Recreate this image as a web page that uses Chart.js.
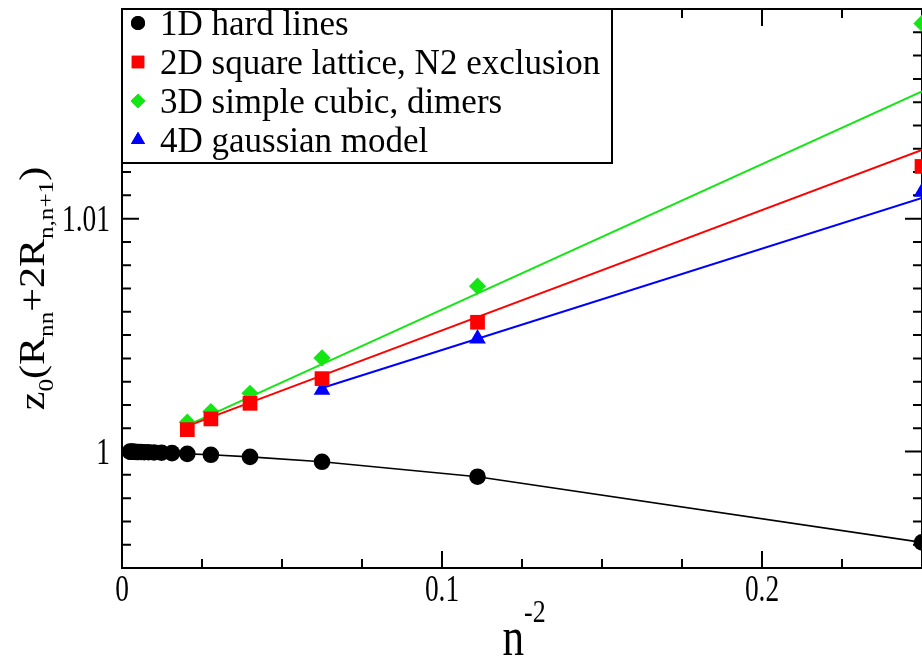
<!DOCTYPE html>
<html>
<head>
<meta charset="utf-8">
<script src="https://cdn.jsdelivr.net/npm/chart.js@4.4.0/dist/chart.umd.min.js"></script>
<style>
html,body{margin:0;padding:0;background:#ffffff;}
#wrap{width:922px;height:665px;position:relative;overflow:hidden;}
canvas{display:block;}
</style>
</head>
<body>
<div id="wrap"><canvas id="c" width="922" height="665"></canvas></div>
<script>
// ---------------- data ----------------
const seriesLabels = ['1D hard lines', '2D square lattice, N2 exclusion', '3D simple cubic, dimers', '4D gaussian model'];

// x = n^-2
const x1D = [0.25, 0.1111, 0.0625, 0.04, 0.02778, 0.02041, 0.01563, 0.01235, 0.01, 0.00826, 0.00694, 0.00592, 0.0051, 0.00444, 0.00391, 0.00346, 0.00309, 0.00277, 0.0025];
const y1D = [0.99610, 0.99892, 0.99956, 0.99977, 0.99986, 0.99990, 0.99993, 0.99995, 0.99996, 0.99997, 0.99997, 0.99998, 0.99998, 0.99998, 0.99999, 0.99999, 0.99999, 0.99999, 1.00000];

const x2D = [0.02041, 0.02778, 0.04, 0.0625, 0.1111, 0.25];
const y2D = [1.00094, 1.00140, 1.00207, 1.00313, 1.00555, 1.01224];

const x3D = [0.02041, 0.02778, 0.04, 0.0625, 0.1111, 0.25];
const y3D = [1.00126, 1.00172, 1.00250, 1.00402, 1.00710, 1.01838];

const x4D = [0.0625, 0.1111, 0.25];
const y4D = [1.00264, 1.00485, 1.01115];

// straight fit lines
const fitX2D = [0.02041, 0.25];
const fitY2D = [1.00109, 1.01295];
const fitX3D = [0.02041, 0.25];
const fitY3D = [1.00112, 1.01546];
const fitX4D = [0.0625, 0.25];
const fitY4D = [1.00273, 1.01089];

// axes
const xTicks = [0, 0.1, 0.2];
const xTickLabels = ['0', '0.1', '0.2'];
const xMinorTicks = [0.025, 0.05, 0.075, 0.125, 0.15, 0.175, 0.225];
const yTicks = [1.0, 1.01];
const yTickLabels = ['1', '1.01'];
const yMinorTicks = [0.996, 0.997, 0.998, 0.999, 1.001, 1.002, 1.003, 1.004, 1.005, 1.006, 1.007, 1.008, 1.009, 1.011, 1.012, 1.013, 1.014, 1.015, 1.016, 1.017, 1.018];
const xRange = [0, 0.25];
const yRange = [0.995, 1.019];

// ---------------- helpers ----------------
const pts = (xs, ys) => xs.map((x, i) => ({x: x, y: ys[i]}));
const SERIF = "'Liberation Serif', 'DejaVu Serif', serif";
const COL = {black: '#000000', red: '#ff0000', green: '#14e614', blue: '#0000ff'};
const styles = [
  {color: COL.black, pointStyle: 'circle', radius: 8.3},
  {color: COL.red, pointStyle: 'rect', radius: 10.4},
  {color: COL.green, pointStyle: 'rectRot', radius: 8.6},
  {color: COL.blue, pointStyle: 'triangle', radius: 9.6}
];

function markerSet(idx, data) {
  const s = styles[idx];
  return {
    label: seriesLabels[idx], data: data, showLine: false,
    pointStyle: s.pointStyle, pointRadius: s.radius, pointHoverRadius: s.radius,
    pointBackgroundColor: s.color, pointBorderColor: s.color, pointBorderWidth: 0,
    backgroundColor: s.color, borderColor: s.color, order: 1
  };
}
function lineSet(idx, data, width) {
  const s = styles[idx];
  return {
    label: seriesLabels[idx] + ' line', data: data, showLine: true, pointRadius: 0, pointHoverRadius: 0,
    borderColor: s.color, borderWidth: width, backgroundColor: s.color, tension: 0, fill: false, order: 2
  };
}

// text geometry
const TICK_FONT = 37, TICK_K = 0.74;
const LEGEND_FONT = 35;
const YT_FONT = 42, YT_K = 0.85;
const XT_FONT = 54, XT_K = 0.8;

function fillScaled(ctx, text, x, y, k, align) {
  ctx.save();
  ctx.translate(x, y);
  ctx.scale(k, 1);
  const w = ctx.measureText(text).width;
  let dx = 0;
  if (align === 'center') dx = -w / 2;
  else if (align === 'right') dx = -w;
  ctx.fillText(text, dx, 0);
  ctx.restore();
}

// frame + inward ticks + tick labels
const framePlugin = {
  id: 'frame',
  beforeDatasetsDraw(chart) {
    const ctx = chart.ctx, a = chart.chartArea, xs = chart.scales.x, ys = chart.scales.y;
    ctx.save();
    ctx.strokeStyle = '#000';
    ctx.lineWidth = 2;
    ctx.strokeRect(a.left, a.top, a.right - a.left, a.bottom - a.top);
    const major = 17, minor = 9;
    ctx.beginPath();
    const vt = (v, len) => {
      const p = xs.getPixelForValue(v);
      ctx.moveTo(p, a.bottom); ctx.lineTo(p, a.bottom - len);
      ctx.moveTo(p, a.top); ctx.lineTo(p, a.top + len);
    };
    const ht = (v, len) => {
      const p = ys.getPixelForValue(v);
      ctx.moveTo(a.left, p); ctx.lineTo(a.left + len, p);
      ctx.moveTo(a.right, p); ctx.lineTo(a.right - len, p);
    };
    xTicks.forEach(v => vt(v, major));
    xMinorTicks.forEach(v => vt(v, minor));
    yTicks.forEach(v => ht(v, major));
    yMinorTicks.forEach(v => ht(v, minor));
    ctx.stroke();

    // tick labels
    ctx.fillStyle = '#000';
    ctx.font = TICK_FONT + 'px ' + SERIF;
    ctx.textBaseline = 'alphabetic';
    ctx.textAlign = 'left';
    const digitH = TICK_FONT * 0.66;
    xTicks.forEach((v, i) => {
      fillScaled(ctx, xTickLabels[i], xs.getPixelForValue(v), a.bottom + 9 + digitH, TICK_K, 'center');
    });
    yTicks.forEach((v, i) => {
      fillScaled(ctx, yTickLabels[i], a.left - 12, ys.getPixelForValue(v) + digitH / 2, TICK_K, 'right');
    });
    ctx.restore();
  }
};

// rich-text helper (supports sub/superscripts)
function drawRich(ctx, parts, size, startX, baseY) {
  let x = startX;
  parts.forEach(p => {
    const fs = p.s ? size * 0.6 : size;
    ctx.font = fs + 'px ' + SERIF;
    const dy = p.s === 'sub' ? size * 0.25 : (p.s === 'sup' ? -size * 0.61 : 0);
    ctx.fillText(p.t, x, baseY + dy);
    x += ctx.measureText(p.t).width;
  });
}
function richWidth(ctx, parts, size) {
  let w = 0;
  parts.forEach(p => {
    ctx.font = (p.s ? size * 0.6 : size) + 'px ' + SERIF;
    w += ctx.measureText(p.t).width;
  });
  return w;
}

const yTitleParts = [
  {t: 'z'}, {t: '0', s: 'sub'}, {t: '(R'}, {t: 'nn', s: 'sub'}, {t: '+2R'}, {t: 'n,n+1', s: 'sub'}, {t: ')'}
];
const xTitleParts = [{t: 'n'}, {t: '-2', s: 'sup'}];

const titlePlugin = {
  id: 'titles',
  afterDraw(chart) {
    const ctx = chart.ctx, a = chart.chartArea;
    ctx.save();
    ctx.fillStyle = '#000';
    ctx.textBaseline = 'alphabetic';
    ctx.textAlign = 'left';
    // x title (horizontally condensed)
    const wx = richWidth(ctx, xTitleParts, XT_FONT);
    ctx.save();
    ctx.translate((a.left + a.right) / 2 + 2, 655);
    ctx.scale(XT_K, 1);
    drawRich(ctx, xTitleParts, XT_FONT, -wx / 2, 0);
    ctx.restore();
    // y title (rotated, glyphs condensed horizontally on screen)
    const wy = richWidth(ctx, yTitleParts, YT_FONT);
    ctx.translate(44, (a.top + a.bottom) / 2);
    ctx.scale(YT_K, 1);
    ctx.rotate(-Math.PI / 2);
    drawRich(ctx, yTitleParts, YT_FONT, -wy / 2, 0);
    ctx.restore();
  }
};

// legend box inside the plot
const legendPlugin = {
  id: 'boxLegend',
  afterDatasetsDraw(chart) {
    const ctx = chart.ctx, a = chart.chartArea;
    const left = a.left, top = a.top, right = 612, bottom = 163;
    ctx.save();
    ctx.fillStyle = '#fff';
    ctx.fillRect(left, top, right - left, bottom - top);
    ctx.strokeStyle = '#000';
    ctx.lineWidth = 2;
    ctx.strokeRect(left, top, right - left, bottom - top);
    ctx.font = LEGEND_FONT + 'px ' + SERIF;
    ctx.textBaseline = 'alphabetic';
    ctx.textAlign = 'left';
    for (let i = 0; i < seriesLabels.length; i++) {
      const cy = top + 14 + i * 39;
      const s = styles[i];
      ctx.fillStyle = s.color;
      ctx.strokeStyle = s.color;
      const r = s.radius * 0.85;
      Chart.helpers.drawPoint(ctx, {pointStyle: s.pointStyle, radius: r, rotation: 0, borderWidth: 0}, 138, cy);
      ctx.fill();
      ctx.fillStyle = '#000';
      ctx.fillText(seriesLabels[i], 160, cy + LEGEND_FONT * 0.33);
    }
    ctx.restore();
  }
};

const chart = new Chart(document.getElementById('c'), {
  type: 'scatter',
  data: {
    datasets: [
      lineSet(0, pts(x1D, y1D), 1.6),
      markerSet(0, pts(x1D, y1D)),
      lineSet(1, pts(fitX2D, fitY2D), 2),
      markerSet(1, pts(x2D, y2D)),
      lineSet(2, pts(fitX3D, fitY3D), 2),
      markerSet(2, pts(x3D, y3D)),
      lineSet(3, pts(fitX4D, fitY4D), 2),
      markerSet(3, pts(x4D, y4D))
    ]
  },
  options: {
    responsive: false,
    animation: false,
    devicePixelRatio: 1,
    layout: {autoPadding: false, padding: {top: 9, right: 0, bottom: 0, left: 0}},
    plugins: {legend: {display: false}, tooltip: {enabled: false}},
    elements: {point: {hitRadius: 0}},
    scales: {
      x: {
        type: 'linear', min: xRange[0], max: xRange[1],
        grid: {display: false}, border: {display: false},
        afterBuildTicks: s => { s.ticks = xTicks.map(v => ({value: v})); },
        afterFit: s => { s.height = 97; s.paddingLeft = 0; s.paddingRight = 0; s.paddingTop = 0; s.paddingBottom = 0; },
        ticks: {display: false}
      },
      y: {
        type: 'linear', min: yRange[0], max: yRange[1],
        grid: {display: false}, border: {display: false},
        afterBuildTicks: s => { s.ticks = yTicks.map(v => ({value: v})); },
        afterFit: s => { s.width = 122; s.paddingLeft = 0; s.paddingRight = 0; s.paddingTop = 0; s.paddingBottom = 0; },
        ticks: {display: false}
      }
    }
  },
  plugins: [framePlugin, legendPlugin, titlePlugin]
});
</script>
</body>
</html>
